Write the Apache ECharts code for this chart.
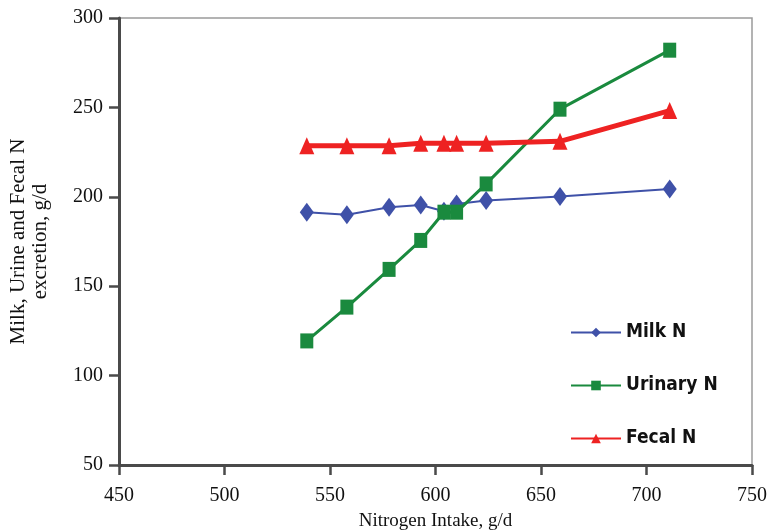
<!DOCTYPE html>
<html>
<head>
<meta charset="utf-8">
<script src="https://cdn.jsdelivr.net/npm/echarts@6/dist/echarts.min.js"></script>
<style>html,body{margin:0;padding:0;background:#fff}#c{width:768px;height:531px}</style>
</head>
<body>
<div id="c"></div>
<script>
const intake = [539, 558, 578, 593, 604, 610, 624, 659, 711];
const milkN = [191.4, 189.9, 194.1, 195.4, 191.9, 196.0, 197.9, 200.1, 204.4];
const urinaryN = [119.4, 138.3, 159.4, 175.6, 191.4, 191.4, 207.2, 249.0, 282.0];
const fecalN = [228.5, 228.5, 228.5, 230, 230, 230, 230, 231, 248.2];
const xTicks = [450, 500, 550, 600, 650, 700, 750];
const yTicks = [50, 100, 150, 200, 250, 300];

const pairs = (xs, ys) => xs.map((x, i) => [x, ys[i]]);
const serif = "'Liberation Serif', 'Times New Roman', serif";
const narrow = "'DejaVu Sans Condensed', 'Liberation Sans Narrow', 'Arial Narrow', 'Liberation Sans', sans-serif";

const chart = echarts.init(document.getElementById('c'), null, {renderer: 'canvas'});
chart.setOption({
  animation: false,
  backgroundColor: '#fff',
  grid: {left: 119, right: 16, top: 18, bottom: 66, containLabel: false, outerBoundsMode: 'none',
         show: true, borderColor: '#9a9a9a', borderWidth: 1.5},
  legend: {
    orient: 'vertical', left: 570, top: 323, padding: 0, itemWidth: 50, itemHeight: 12, itemGap: 34,
    textStyle: {fontFamily: narrow, fontWeight: 'bold', fontSize: 19, color: '#111'},
    data: ['Milk N', 'Urinary N', 'Fecal N']
  },
  xAxis: {
    type: 'value', min: xTicks[0], max: xTicks[xTicks.length - 1], interval: 50,
    name: 'Nitrogen Intake, g/d', nameLocation: 'middle', nameGap: 47,
    nameTextStyle: {fontFamily: serif, fontSize: 19, color: '#111'},
    axisLine: {show: true, lineStyle: {color: '#4a4a4a', width: 3}},
    axisTick: {show: true, length: 10, lineStyle: {color: '#4a4a4a', width: 2.5}},
    axisLabel: {fontFamily: serif, fontSize: 20, color: '#111', margin: 21},
    splitLine: {show: false}
  },
  yAxis: {
    type: 'value', min: yTicks[0], max: yTicks[yTicks.length - 1], interval: 50,
    name: 'Milk, Urine and Fecal N\nexcretion, g/d', nameLocation: 'middle', nameGap: 68, nameRotate: 90,
    nameTextStyle: {fontFamily: serif, fontSize: 21, color: '#111', lineHeight: 22},
    axisLine: {show: true, lineStyle: {color: '#4a4a4a', width: 3}},
    axisTick: {show: true, length: 10, lineStyle: {color: '#4a4a4a', width: 2.5}},
    axisLabel: {fontFamily: serif, fontSize: 20, color: '#111', margin: 16},
    splitLine: {show: false}
  },
  series: [
    {name: 'Milk N', type: 'line', data: pairs(intake, milkN), symbol: 'diamond', symbolSize: [14, 19],
     lineStyle: {color: '#3f51a8', width: 2}, itemStyle: {color: '#3f51a8'}, z: 3},
    {name: 'Urinary N', type: 'line', data: pairs(intake, urinaryN), symbol: 'rect', symbolSize: [13, 15],
     lineStyle: {color: '#1a8a3e', width: 3}, itemStyle: {color: '#1a8a3e'}, z: 4},
    {name: 'Fecal N', type: 'line', data: pairs(intake, fecalN), symbol: 'triangle', symbolSize: [15, 17],
     lineStyle: {color: '#ee2222', width: 5}, itemStyle: {color: '#ee2222'}, z: 5}
  ]
});
</script>
</body>
</html>
